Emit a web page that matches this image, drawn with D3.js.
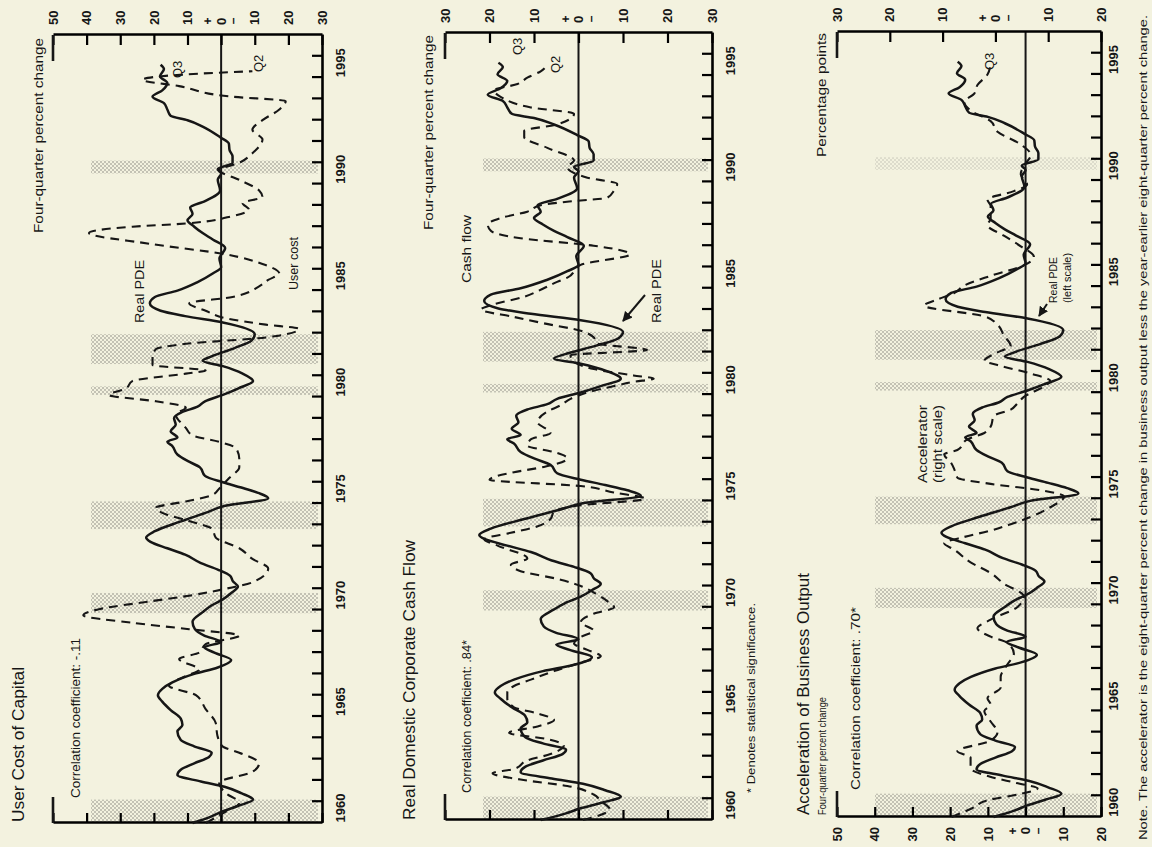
<!DOCTYPE html>
<html><head><meta charset="utf-8">
<script src="https://cdn.jsdelivr.net/npm/d3@7"></script>
<style>
body{margin:0;background:#f3f2df}
svg{display:block}
text{font-family:"Liberation Sans",Arial,Helvetica,sans-serif;fill:#161616}
</style>
</head><body><svg id="c" width="1152" height="847"></svg>
<script>
// ---------------- DATA ----------------
const pdeYears = [1960.0,1960.3,1960.55,1960.8,1961.1,1961.4,1961.7,1961.95,1962.25,1962.5,1962.8,1963.1,1963.3,1963.6,1963.9,1964.3,1964.6,1964.9,1965.3,1965.7,1966.0,1966.3,1966.6,1967.0,1967.3,1967.65,1968.0,1968.25,1968.5,1968.8,1969.1,1969.45,1969.9,1970.2,1970.5,1970.8,1971.1,1971.35,1971.6,1971.9,1972.2,1972.6,1972.9,1973.2,1973.4,1973.7,1974.15,1974.6,1974.9,1975.25,1975.5,1975.75,1976.0,1976.3,1976.7,1977.0,1977.3,1977.7,1977.9,1978.1,1978.4,1978.7,1979.0,1979.3,1979.55,1979.8,1980.1,1980.4,1980.75,1981.1,1981.45,1981.7,1981.9,1982.3,1982.65,1982.95,1983.5,1983.8,1984.05,1984.4,1984.7,1985.0,1985.4,1985.8,1986.1,1986.5,1987.0,1987.4,1987.7,1988.0,1988.3,1988.6,1988.9,1989.2,1989.7,1990.2,1990.5,1990.7,1991.0,1991.3,1991.6,1991.9,1992.2,1992.7,1993.0,1993.2,1993.5,1993.8,1994.1,1994.4,1994.75,1995.06,1995.4,1995.6];
const pdeValues = [8.5,3,-0.5,-5,-9.5,-6,-1,6,13,12,8,3.6,2.8,8,12,13,11.5,12,15,17.5,18.8,17.5,14.5,8,1,-3,2,5,0,5,7.8,8.5,5.5,3,-0.5,-3,-5,-3.5,-2.7,1,6,10.7,16,21,22.3,19.7,12.2,4,-1.2,-14,-11,-6,-0.5,4.8,6.3,10,13,14.5,16,13,15,13.5,14,11.5,7,4.8,-0.5,-5,-9.5,-6.4,-0.5,5.5,3,-4,-9,-10,-0.5,10.7,18,21.2,19.7,13,7,2.5,0,0.5,-1.2,2.5,5.5,8,10,8.5,9.2,4.8,0.3,1,0,1,-3.4,-3.4,-2.5,-2.3,0.3,5.5,10,15,16,17,20.4,17.5,16,18.2,17,18];

const userCostYears = [1960.0,1960.5,1960.95,1961.4,1961.9,1962.4,1962.8,1963.3,1963.6,1964.1,1964.7,1965.35,1966.0,1966.45,1966.9,1967.2,1967.7,1968.0,1968.4,1968.8,1969.1,1969.4,1969.75,1970.05,1970.4,1970.7,1971.0,1971.3,1971.95,1972.4,1972.9,1973.4,1973.8,1974.2,1974.5,1974.8,1975.1,1975.4,1975.7,1976.2,1976.7,1977.1,1977.6,1977.9,1978.2,1978.55,1979.2,1979.5,1979.8,1980.1,1980.4,1980.75,1981.1,1981.25,1981.5,1981.9,1982.25,1982.5,1982.8,1983.2,1983.4,1983.7,1984.05,1984.4,1984.7,1985.2,1985.5,1985.8,1986.25,1986.7,1987.2,1987.7,1988.0,1988.15,1988.5,1988.8,1989.1,1989.4,1989.7,1990.2,1990.65,1991.0,1991.45,1992.1,1992.55,1993.0,1993.5,1993.9,1994.1,1994.6,1994.9,1995.15,1995.3];
const userCostValues = [4.5,-1,-5.4,-1.4,0.6,-9.3,-11.3,-5.4,-0.4,1.1,1.6,4.6,7.5,15.5,10.5,6.5,12.5,6.5,4.6,-5.4,9.5,26.4,41,36,21.4,8.5,-1.4,-9.3,-14,-9.3,-5.4,1.6,2.6,10,16.5,19.4,10.5,2.6,0.6,-2.4,-5.4,-5.4,-4.4,0.6,8.5,10.5,13.5,10.5,19.4,33.3,28.4,26.4,10.5,4.6,20.4,20.4,19.4,10.5,-13.3,-23.2,-13.3,-1.4,4.6,9.5,-3.4,-11.3,-14,-17.3,-12.3,-1.4,21.4,39.3,26.4,10.5,-3.4,-8.3,-6.4,-12.3,-11.3,-5.4,0.6,-5.4,-9.3,-12.3,-9.3,-12.3,-17.3,-19.2,-3.4,12.5,23.4,10.5,-9.3];

const cashFlowYears = [1960.0,1960.5,1960.9,1961.2,1961.6,1961.9,1962.2,1962.4,1962.8,1963.1,1963.5,1963.8,1964.1,1964.4,1964.7,1965.0,1965.3,1965.7,1966.0,1966.3,1966.6,1967.0,1967.4,1967.7,1968.0,1968.3,1968.6,1968.9,1969.3,1969.7,1970.0,1970.3,1970.6,1971.0,1971.3,1971.7,1972.0,1972.3,1972.9,1973.2,1973.5,1973.8,1974.15,1974.5,1974.8,1975.1,1975.4,1975.7,1976.0,1976.35,1976.6,1977.0,1977.3,1977.6,1977.9,1978.2,1978.7,1979.2,1979.5,1979.8,1980.1,1980.4,1980.6,1980.75,1980.9,1981.2,1981.55,1981.85,1982.1,1982.4,1982.7,1983.0,1983.35,1983.65,1984.0,1984.2,1984.6,1985.0,1985.3,1985.5,1986.1,1986.6,1987.0,1987.35,1987.7,1988.0,1988.3,1988.6,1988.9,1989.1,1989.25,1989.6,1989.9,1990.2,1990.7,1991.0,1991.6,1992.1,1992.4,1992.7,1993.2,1993.5,1994.0,1994.3,1994.6,1994.9,1995.2,1995.5];
const cashFlowValues = [-1,-7,-5,-3.4,2.5,13,19.3,14.5,11.5,6.3,3.3,7,15.6,9.2,5.5,9,14.5,16,16,14.5,10.7,5.5,-0.5,-5,-2,1,-0.5,-3.4,-0.5,-3.4,-8,-6.4,-4.2,-0.5,4,13,15.2,11.5,18.2,21.2,15.2,9.3,6.3,5.5,-0.5,-15,-7.9,-0.5,20,14.5,7.8,2.5,5.5,11.5,10.7,6.3,9.2,7,4,1.8,-2,-8,-12.4,-16.9,-12.4,-3.4,1,1.8,-15.4,-4.2,-3.4,-0.5,7.8,14.5,21.9,19.7,12.2,7.8,4.8,2.5,-0.5,-11.6,-3.4,13,19.7,20.4,17.5,11.5,8.5,1,-6.4,-8,-8.7,-2,2.5,1,7,12.2,12.2,4.8,1,10.7,17.5,19,13.7,11.5,8.5,7];

const accelYears = [1960.0,1960.4,1960.8,1961.1,1961.35,1961.6,1961.9,1962.3,1962.8,1963.1,1963.6,1964.0,1964.5,1965.0,1965.3,1965.6,1966.1,1966.6,1967.2,1967.7,1968.2,1968.5,1968.9,1969.3,1969.9,1970.4,1971.0,1971.5,1972.0,1972.6,1972.9,1973.2,1973.5,1973.8,1974.15,1974.6,1975.1,1975.4,1975.7,1976.0,1976.4,1976.7,1977.1,1977.3,1977.8,1978.1,1978.4,1978.9,1979.2,1979.5,1979.8,1980.3,1980.55,1980.9,1981.3,1981.5,1981.9,1982.2,1982.7,1983.2,1983.6,1984.1,1984.4,1984.7,1985.05,1985.5,1986.0,1986.4,1986.9,1987.4,1987.9,1988.2,1988.8,1989.1,1989.5,1989.8,1990.3,1990.7,1991.2,1991.7,1992.3,1992.8,1993.3,1993.7,1994.1,1994.5,1995.0,1995.5];
const accelValues = [8.3,4.5,1.3,-5,-8,-4,1,4.7,4.7,7.2,0.9,-0.4,0.9,2.1,0.9,1.5,-1,-1,-2.3,-3.5,-2.3,0.9,3.4,0.9,-4.2,-5.4,-1.6,0.9,4.7,7.8,9.7,5.9,0.9,-2.9,-6.7,-10.4,-13,-8.6,0.9,7.2,7.8,8.4,9.7,7.2,5.3,2.1,0.9,0.3,-2.9,-4.2,-5.4,-9.2,-10.4,-6.7,-0.4,2.1,-0.4,-2.9,-1.6,-0.4,2.1,13.5,10.9,7.8,5.9,1,-5.4,-7.3,-4.8,-1.6,1.5,0.9,0.9,1.5,-3.5,-6,-4.8,-5.4,-6.7,-4.8,-0.4,0.9,4.7,5.9,4,3.4,1.5,0.9];

const recessionStarts = [1960.0,1969.85,1973.8,1980.1,1981.55,1990.5];
const recessionEnds   = [1961.1,1970.8,1975.1,1980.5,1982.95,1991.1];

const yearLabels = [1960,1965,1970,1975,1980,1985,1990,1995];
const yearTicks = d3.range(1961,1997);

const p1Ticks = [50,40,30,20,10,0,-10,-20,-30];
const p2Ticks = [30,20,10,0,-10,-20,-30];
const p3LeftTicks = [50,40,30,20,10,0,-10,-20];
const p3RightTicks = [30,20,10,0,-10,-20];

// ---------------- DRAWING ----------------
const svg = d3.select('#c');
svg.append('rect').attr('width',1152).attr('height',847).attr('fill','#f3f2df');
const defs = svg.append('defs');
const pat = defs.append('pattern').attr('id','stip').attr('patternUnits','userSpaceOnUse')
  .attr('width',4).attr('height',4);
pat.append('circle').attr('cx',1).attr('cy',1).attr('r',0.75).attr('fill','#7a7a72');
pat.append('circle').attr('cx',3).attr('cy',3).attr('r',0.75).attr('fill','#7a7a72');
defs.append('marker').attr('id','arr').attr('viewBox','0 0 10 10').attr('refX',9).attr('refY',5)
  .attr('markerWidth',5).attr('markerHeight',5).attr('orient','auto')
  .append('path').attr('d','M0,0L10,5L0,10Z').attr('fill','#161616');

// original page is rotated by -90 degrees
const root = svg.append('g').attr('transform','translate(0,847) rotate(-90)');

function drawPanel(cfg){
  const g = root.append('g');
  const x = d3.scaleLinear().domain([1960,1997]).range([cfg.u0,cfg.u1]);
  const yL = d3.scaleLinear().domain(cfg.leftDomain).range([cfg.vTop,cfg.vBottom]);
  const yR = d3.scaleLinear().domain(cfg.rightDomain).range([cfg.vTop,cfg.vBottom]);

  // recession bands
  g.selectAll('rect.band').data(d3.zip(recessionStarts,recessionEnds)).join('rect')
    .attr('x',d=>x(d[0])).attr('width',d=>x(d[1])-x(d[0]))
    .attr('y',cfg.vTop+38).attr('height',cfg.vBottom-cfg.vTop-42)
    .attr('fill','url(#stip)').attr('opacity',(d,i)=> (cfg.fadeLast && i===5)?0.45:1);

  // zero line
  g.append('line').attr('x1',cfg.u0).attr('x2',cfg.u1)
    .attr('y1',yL(0)).attr('y2',yL(0)).attr('stroke','#161616').attr('stroke-width',2);

  // year axis (bottom of the original page orientation)
  const xa = g.append('g').attr('transform',`translate(0,${cfg.vBottom})`)
    .call(d3.axisBottom(x).tickValues(yearTicks).tickSize(-10).tickSizeOuter(0).tickFormat(''));
  xa.select('.domain').attr('stroke-width',2.6);
  xa.selectAll('.tick line').attr('stroke-width',2.2);
  g.selectAll('text.yl').data(yearLabels).join('text').attr('class','yl')
    .attr('x',d=>x(d+0.7)).attr('y',cfg.vBottom+cfg.yearOff).attr('text-anchor','middle')
    .attr('font-size',13).attr('font-weight','bold').text(d=>d);

  // left axis
  const la = g.append('g').attr('transform',`translate(${cfg.u0},0)`)
    .call(d3.axisLeft(yL).tickValues(cfg.leftTicks).tickSize(-10).tickSizeOuter(0).tickPadding(10)
      .tickFormat(cfg.leftLabels ? (d=>Math.abs(d)) : ''));
  la.select('.domain').attr('stroke-width',2.6);
  la.selectAll('.tick line').attr('stroke-width',2.2);
  la.selectAll('.tick text').attr('font-size',13).attr('font-weight','bold')
    .attr('font-family','"Liberation Sans",Arial,sans-serif').attr('fill','#161616');

  // right axis
  const ra = g.append('g').attr('transform',`translate(${cfg.u1},0)`)
    .call(d3.axisRight(yR).tickValues(cfg.rightTicks).tickSize(-10).tickSizeOuter(0).tickPadding(10)
      .tickFormat(d=>Math.abs(d)));
  ra.select('.domain').attr('stroke-width',2.6);
  ra.selectAll('.tick line').attr('stroke-width',2.2);
  ra.selectAll('.tick text').attr('font-size',13).attr('font-weight','bold')
    .attr('font-family','"Liberation Sans",Arial,sans-serif').attr('fill','#161616');

  // + / - marks around the zero labels
  const pm = (u,v)=>{
    g.append('text').attr('x',u).attr('y',v-13).attr('dy','0.35em').attr('text-anchor','middle')
      .attr('font-size',12).attr('font-weight','bold').text('+');
    g.append('text').attr('x',u).attr('y',v+12).attr('dy','0.35em').attr('text-anchor','middle')
      .attr('font-size',12).attr('font-weight','bold').text('\u2013');
  };
  pm(cfg.u1+14,yR(0));
  if(cfg.leftLabels) pm(cfg.u0-14,yL(0));

  // top stubs of the frame
  g.append('line').attr('x1',cfg.u0).attr('x2',cfg.u0+26).attr('y1',cfg.vTop).attr('y2',cfg.vTop)
    .attr('stroke','#161616').attr('stroke-width',2.6);
  g.append('line').attr('x1',cfg.u1-26).attr('x2',cfg.u1).attr('y1',cfg.vTop).attr('y2',cfg.vTop)
    .attr('stroke','#161616').attr('stroke-width',2.6);

  // series
  cfg.series.forEach(s=>{
    const ys = s.scale==='R' ? yR : yL;
    g.append('path').datum(d3.zip(s.years,s.values))
      .attr('d',d3.line().x(d=>x(d[0])).y(d=>ys(d[1])).curve(d3.curveMonotoneX))
      .attr('fill','none').attr('stroke','#161616')
      .attr('stroke-width',s.dashed?2.1:2.5)
      .attr('stroke-dasharray',s.dashed?'9,6':null)
      .attr('stroke-linejoin','round');
  });

  // texts
  cfg.texts.forEach(t=>{
    const el = g.append('text').attr('x',t.u).attr('y',t.v).attr('font-size',t.fs)
      .attr('text-anchor',t.anchor||'start').attr('font-weight',t.bold?'bold':'normal').text(t.s);
    if(t.len) el.attr('textLength',t.len).attr('lengthAdjust','spacingAndGlyphs');
  });
  (cfg.arrows||[]).forEach(a=>{
    g.append('line').attr('x1',a[0]).attr('y1',a[1]).attr('x2',a[2]).attr('y2',a[3])
      .attr('stroke','#161616').attr('stroke-width',2).attr('marker-end','url(#arr)');
  });
}

drawPanel({
  u0:24,u1:812,vTop:53,vBottom:322,yearOff:23,
  leftDomain:[50,-30],rightDomain:[50,-30],
  leftTicks:p1Ticks,rightTicks:p1Ticks,leftLabels:false,
  series:[{years:pdeYears,values:pdeValues},{years:userCostYears,values:userCostValues,dashed:true}],
  texts:[
    {s:'User Cost of Capital',u:25,v:24,fs:16,len:155},
    {s:'Correlation coefficient: -.11',u:49,v:80,fs:13,len:160},
    {s:'Four-quarter percent change',u:809,v:43,fs:13.5,anchor:'end',len:195},
    {s:'Real PDE',u:524,v:144,fs:13,len:63},
    {s:'User cost',u:557,v:298,fs:13,len:53},
    {s:'Q3',u:769,v:182,fs:13},
    {s:'Q2',u:775,v:263,fs:13}
  ]
});

drawPanel({
  u0:27,u1:814,vTop:445,vBottom:712,yearOff:23,
  leftDomain:[30,-30],rightDomain:[30,-30],
  leftTicks:p2Ticks,rightTicks:p2Ticks,leftLabels:false,
  series:[{years:pdeYears,values:pdeValues},{years:cashFlowYears,values:cashFlowValues,dashed:true}],
  texts:[
    {s:'Real Domestic Corporate Cash Flow',u:27,v:415,fs:16,len:280},
    {s:'Correlation coefficient: .84*',u:54,v:471,fs:13,len:153},
    {s:'Four-quarter percent change',u:812,v:433,fs:13.5,anchor:'end',len:195},
    {s:'Cash flow',u:564,v:471,fs:13,len:68},
    {s:'Real PDE',u:524,v:661,fs:13,len:64},
    {s:'Q3',u:792,v:522,fs:13},
    {s:'Q2',u:774,v:560,fs:13},
    {s:'* Denotes statistical significance.',u:54,v:755,fs:10.5,len:190}
  ],
  arrows:[[552,645,526,623]]
});

drawPanel({
  u0:30,u1:815,vTop:837,vBottom:1101,yearOff:17,
  leftDomain:[50,-20],rightDomain:[30,-20],
  leftTicks:p3LeftTicks,rightTicks:p3RightTicks,leftLabels:true,fadeLast:true,
  series:[{years:pdeYears,values:pdeValues},{years:accelYears,values:accelValues,dashed:true,scale:'R'}],
  texts:[
    {s:'Acceleration of Business Output',u:32,v:809,fs:16,len:242},
    {s:'Four-quarter percent change',u:32,v:826,fs:11,len:118},
    {s:'Correlation coefficient: .70*',u:57,v:860,fs:13,len:183},
    {s:'Percentage points',u:814,v:826,fs:13.5,anchor:'end',len:124},
    {s:'Accelerator',u:364,v:927,fs:12.5,len:78},
    {s:'(right scale)',u:364,v:942,fs:12.5,len:78},
    {s:'Real PDE',u:544,v:1057,fs:11,len:46},
    {s:'(left scale)',u:544,v:1071,fs:11,len:50},
    {s:'Q3',u:777,v:994,fs:13},
    {s:'Note. The accelerator is the eight-quarter percent change in business output less the year-earlier eight-quarter percent change.',u:7,v:1147,fs:10,len:825}
  ],
  arrows:[[543,1047,531,1039]]
});
</script></body></html>
